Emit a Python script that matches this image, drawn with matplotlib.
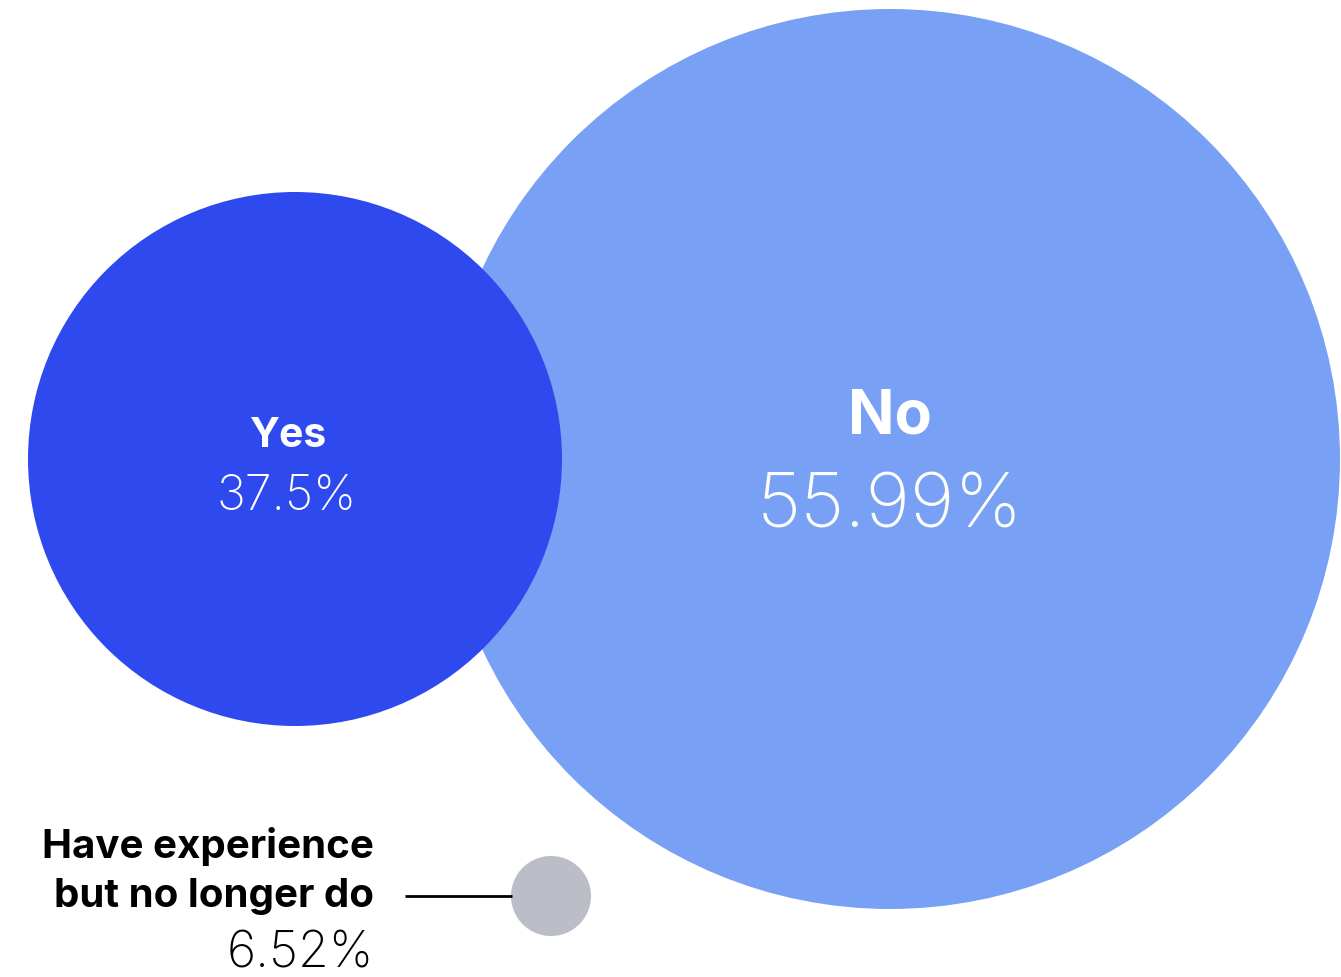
import matplotlib
matplotlib.use("Agg")
import matplotlib.pyplot as plt
from matplotlib.patches import Circle

# answer shares (percent)
labels = ["No", "Yes", "Have experience\nbut no longer do"]
values = [55.99, 37.5, 6.52]
colors = ["#78A0F5", "#2E4AEE", "#BBBEC6"]

# bubble layout in pixel coordinates (x, y, radius)
centers = [(890, 460), (295, 460), (551, 897)]
radii = [450, 267, 40]

W, H = 1341, 978
fig = plt.figure(figsize=(W / 100, H / 100), dpi=100)
ax = fig.add_axes([0, 0, 1, 1])
ax.set_xlim(0, W)
ax.set_ylim(H, 0)
ax.set_aspect("equal")
ax.axis("off")

for (cx, cy), r, c in zip(centers, radii, colors):
    ax.add_patch(Circle((cx, cy), r, facecolor=c, edgecolor="none"))

font = "Inter"

# big bubble labels
ax.text(890, 433, labels[0], ha="center", va="baseline", color="white",
        fontsize=44, fontweight="bold", family=font)
ax.text(890, 528, f"{values[0]}%", ha="center", va="baseline", color="white",
        fontsize=55, fontweight="light", family=font)

ax.text(288, 447, labels[1], ha="center", va="baseline", color="white",
        fontsize=29.5, fontweight="bold", family=font)
ax.text(287, 510, f"{values[1]}%", ha="center", va="baseline", color="white",
        fontsize=35, fontweight="light", family=font)

# small bubble: label off to the left with a leader line
ax.plot([405, 512], [897, 897], color="black", lw=2, solid_capstyle="butt")
for i, line in enumerate(labels[2].split("\n")):
    ax.text(374, 858 + 49 * i, line, ha="right", va="baseline", color="black",
            fontsize=29, fontweight="bold", family=font)
ax.text(374, 968, f"{values[2]}%", ha="right", va="baseline", color="black",
        fontsize=36, fontweight="light", family=font)

fig.savefig("out.png", dpi=100, facecolor="white")
